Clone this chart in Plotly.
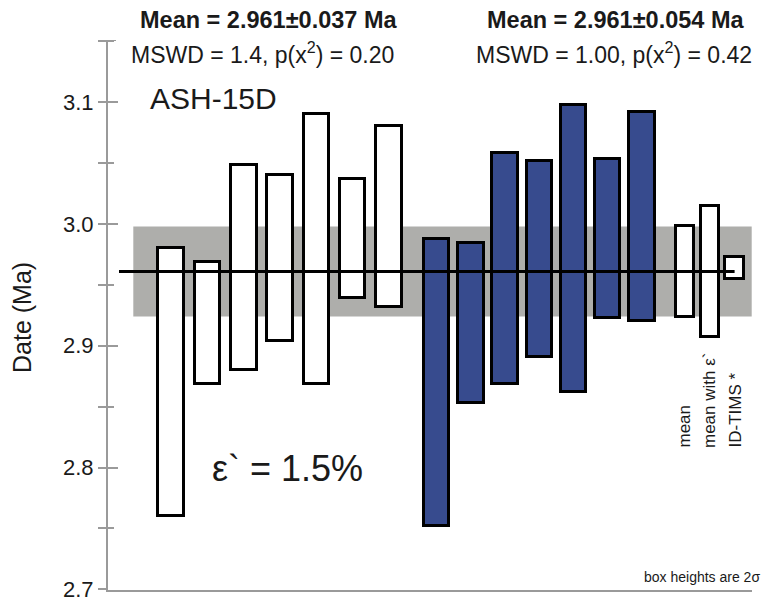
import plotly.graph_objects as go

# ---- data ----
white_lo = [2.760, 2.869, 2.880, 2.904, 2.869, 2.939, 2.932]
white_hi = [2.980, 2.969, 3.048, 3.040, 3.090, 3.037, 3.080]
blue_lo = [2.752, 2.853, 2.869, 2.891, 2.862, 2.923, 2.920]
blue_hi = [2.988, 2.984, 3.058, 3.052, 3.098, 3.053, 3.092]
summary_names = ["mean", "mean with ε`", "ID-TIMS *"]
summary_lo = [2.924, 2.907, 2.955]
summary_hi = [2.998, 3.015, 2.973]
weighted_mean = 2.961
mean_err = 0.037
mean_err_eps = 0.054
y_ticks = [2.7, 2.8, 2.9, 3.0, 3.1]

W, H = 764, 600
L, R, T, B = 108, 12, 40, 10
PW, PH = W - L - R, H - T - B
Y0, Y1 = 2.6995, 3.151

def px(xp):  # pixel column -> x data unit (pixel-like units from plot left)
    return xp - L

def paper_x(xp):
    return (xp - L) / PW

def paper_y(yp):
    return (H - B - yp) / PH

WHITE_X0, WHITE_DX = px(171.2), 36.3
BLUE_X0, BLUE_DX = px(436.7), 34.2
SUM_X0, SUM_DX = px(685.0), 24.8
BW, SW = 25.5, 18.5

wx = [WHITE_X0 + i * WHITE_DX for i in range(len(white_lo))]
bx = [BLUE_X0 + i * BLUE_DX for i in range(len(blue_lo))]
sx = [SUM_X0 + i * SUM_DX for i in range(len(summary_lo))]

fig = go.Figure()

axis_col = "#9a9a9a"

# grey band (mean ± 2σ)
fig.add_shape(type="rect", xref="x", yref="y", x0=px(133.3), x1=px(751.7),
              y0=weighted_mean - mean_err, y1=weighted_mean + mean_err,
              fillcolor="#aeaeab", line_width=0, layer="below")
# axis top cap
fig.add_shape(type="line", xref="paper", yref="y", x0=paper_x(100), x1=paper_x(116),
              y0=Y1, y1=Y1, line=dict(color=axis_col, width=2))
# mean line
fig.add_trace(go.Scatter(x=[px(119), sx[-1]], y=[weighted_mean, weighted_mean],
                         mode="lines", line=dict(color="black", width=3),
                         hoverinfo="skip", showlegend=False))

def boxes(xs, lo, hi, width, color):
    fig.add_trace(go.Bar(x=xs, y=[h - l for l, h in zip(lo, hi)], base=lo,
                         width=width, marker=dict(color=color, line=dict(color="black", width=3)),
                         showlegend=False))

boxes(wx, white_lo, white_hi, BW, "white")
boxes(bx, blue_lo, blue_hi, BW, "#374b8e")
boxes(sx, summary_lo, summary_hi, SW, "white")

fig.update_layout(
    width=W, height=H, margin=dict(l=L, r=R, t=T, b=B, autoexpand=False),
    plot_bgcolor="white", paper_bgcolor="white",
    font=dict(family="Liberation Sans, Arial, sans-serif", color="#1a1a1a"),
    barmode="overlay", bargap=0,
    xaxis=dict(range=[0, PW], showgrid=False, zeroline=False, showticklabels=False,
               automargin=False,
               ticks="", showline=True, linecolor=axis_col, linewidth=2),
    yaxis=dict(range=[Y0, Y1], showgrid=False, zeroline=False, automargin=False,
               tickvals=y_ticks, ticktext=[f"{v:.1f}" for v in y_ticks],
               ticklabeloverflow="allow",
               ticks="outside", ticklen=8, tickwidth=2, tickcolor=axis_col,
               minor=dict(dtick=0.05, tick0=2.7, ticks="outside", ticklen=8,
                          tickwidth=2, tickcolor=axis_col, showgrid=False),
               tickfont=dict(size=22, color="#1a1a1a"),
               showline=True, linecolor=axis_col, linewidth=2),
    yaxis2=dict(range=[Y0, Y1], overlaying="y", side="left", showgrid=False, zeroline=False,
                automargin=False, tickvals=y_ticks, showticklabels=False,
                ticks="inside", ticklen=10, tickwidth=2, tickcolor=axis_col,
                minor=dict(dtick=0.05, tick0=2.7, ticks="inside", ticklen=6,
                           tickwidth=2, tickcolor=axis_col, showgrid=False)),
)
# dummy trace to activate yaxis2
fig.add_trace(go.Scatter(x=[None], y=[None], yaxis="y2", showlegend=False))

def ann(text, xp, yp, size, xanchor="center", yanchor="middle", angle=0, bold=False):
    if bold:
        text = f"<b>{text}</b>"
    fig.add_annotation(text=text, xref="paper", yref="paper", x=paper_x(xp), y=paper_y(yp),
                       xanchor=xanchor, yanchor=yanchor, textangle=angle, showarrow=False,
                       font=dict(size=size, color="#1a1a1a"))

ann(f"Mean = {weighted_mean:.3f}±{mean_err:.3f} Ma", 268, 20, 23.5, bold=True)
ann("MSWD = 1.4, p(x<sup>2</sup>) = 0.20", 262, 53, 23)
ann(f"Mean = {weighted_mean:.3f}±{mean_err_eps:.3f} Ma", 615, 20, 23.5, bold=True)
ann("MSWD = 1.00, p(x<sup>2</sup>) = 0.42", 614, 53, 23)
ann("ASH-15D", 148, 98, 30, xanchor="left")
ann("ε` = 1.5%", 210, 468, 36, xanchor="left")
ann("Date (Ma)", 22, 318, 25, angle=-90)
for i, name in enumerate(summary_names):
    ann(name, 684 + i * 25.5, 450, 17, yanchor="bottom", angle=-90)
ann("box heights are 2σ", 762, 577, 14, xanchor="right")

fig.write_html("out.html", config={"displayModeBar": False},
               post_script="document.body.style.margin='0';")
